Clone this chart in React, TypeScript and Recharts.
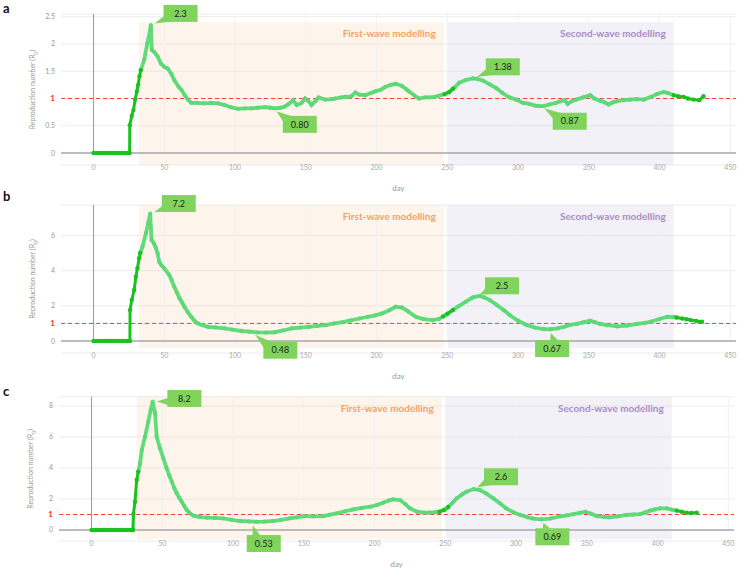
import React from 'react';
import {
  LineChart, Line, XAxis, YAxis, CartesianGrid, ReferenceArea, ReferenceLine, ReferenceDot,
} from 'recharts';

type Pt = [number, number | null];
type Note = [number, number, string];

const xTicks = [0, 50, 100, 150, 200, 250, 300, 350, 400, 450];
const xDomain: [number, number] = [-23, 454];
const firstWave = [32, 247.5];
const secondWave = [250.5, 410];

// ---- panel a ----
const aObserved: Pt[] = [
  [0, 0], [2, 0], [4, 0], [6, 0], [8, 0], [10, 0], [12, 0], [14, 0], [16, 0], [18, 0], [20, 0], [22, 0], [24, 0], [25.5, 0],
  [25.6, 0.51], [27, 0.68], [28.2, 0.79], [29.4, 0.98], [30.6, 1.13], [31.5, 1.25], [32.5, 1.41], [33.4, 1.52],
  [240, null], [248, 1.08], [251.4, 1.12], [254, 1.18],
  [300, null], [410, 1.06], [413, 1.04], [417, 1.03], [420, 1.0], [424, 0.98], [428, 0.97], [431, 1.04],
];
const aModel: Pt[] = [
  [33.4, 1.52], [35.8, 1.71], [38, 2.01], [40, 2.26], [40.5, 2.35], [41.2, 1.89], [42.7, 1.86], [45.3, 1.77], [47.6, 1.64],
  [50, 1.58], [52.4, 1.55], [55, 1.45], [57, 1.34], [60, 1.22], [62, 1.16], [64.5, 1.06], [66.6, 0.98], [69, 0.92],
  [73, 0.92], [78, 0.91], [83, 0.92], [88, 0.91], [92.7, 0.88], [97, 0.84], [102, 0.81], [107, 0.82], [111.6, 0.82],
  [116, 0.83], [121, 0.84], [125, 0.83], [128, 0.82], [132, 0.83], [135, 0.85], [138, 0.9], [141, 0.97], [143.6, 0.88],
  [147, 0.92], [149.5, 1.0], [152, 0.95], [154, 0.88], [157, 0.96], [159, 1.02], [163.7, 0.98], [168.5, 0.99], [171, 1.0],
  [175, 1.02], [178, 1.03], [182, 1.04], [185, 1.11], [188, 1.07], [192, 1.06], [196, 1.1], [199, 1.13], [203, 1.16],
  [206, 1.21], [210, 1.25], [213.5, 1.27], [218, 1.23], [221, 1.17], [223, 1.13], [227, 1.05], [230, 1.0], [234, 1.02],
  [237, 1.02], [241, 1.03], [244, 1.05], [248, 1.08], [251.4, 1.12], [255, 1.2], [258.5, 1.29], [263, 1.34], [268, 1.37],
  [271, 1.36], [275, 1.33], [280, 1.26], [284.6, 1.19], [289, 1.1], [294, 1.02], [298.7, 0.98], [303.5, 0.92], [308, 0.9],
  [312, 0.87], [315, 0.86], [318, 0.86], [322, 0.89], [327, 0.92], [330, 0.95], [333, 0.97], [335, 0.9], [338, 0.95],
  [341, 0.98], [346, 1.02], [351, 1.06], [354, 1.0], [358, 0.96], [361, 0.93], [364, 0.89], [367, 0.93], [370, 0.95],
  [375, 0.97], [379, 0.98], [384, 0.99], [389, 0.98], [394, 1.03], [398, 1.08], [403, 1.12], [406, 1.1], [410, 1.06],
];
const aTicks = [0, 0.5, 1, 1.5, 2, 2.5];
const aNotes: Note[] = [[40.5, 2.35, '2.3'], [127, 0.81, '0.80'], [268, 1.37, '1.38'], [316, 0.86, '0.87']];

// ---- panel b ----
const bObserved: Pt[] = [
  [0, 0], [2, 0], [4, 0], [6, 0], [8, 0], [10, 0], [12, 0], [14, 0], [16, 0], [18, 0], [20, 0], [22, 0], [24, 0], [25.7, 0],
  [25.8, 1.76], [27, 2.33], [28.7, 2.9], [29.9, 3.65], [31, 4.13], [32.2, 4.7], [33, 5.0],
  [240, null], [247, 1.4], [250, 1.55], [254, 1.76],
  [300, null], [412, 1.34], [416, 1.28], [419, 1.24], [422, 1.19], [426, 1.14], [430, 1.1],
];
const bModel: Pt[] = [
  [33, 5.0], [34.6, 5.36], [37, 6.12], [38.6, 6.69], [40, 7.25], [41, 5.74], [42.7, 5.55], [44, 5.3], [45.3, 4.98],
  [46.4, 4.5], [48, 4.3], [50, 4.13], [53.5, 3.75], [55, 3.5], [57, 3.09], [59, 2.75], [60.7, 2.43], [62.5, 2.2],
  [64.2, 1.95], [66.5, 1.65], [69, 1.38], [71, 1.18], [73.7, 1.0], [77, 0.9], [80.8, 0.81], [86, 0.77], [92.6, 0.72],
  [98, 0.65], [104.5, 0.57], [110, 0.53], [116, 0.49], [122, 0.48], [128, 0.5], [134, 0.6], [140, 0.72], [146, 0.76],
  [152, 0.81], [158, 0.86], [164, 0.91], [170, 1.0], [176, 1.08], [182, 1.18], [188, 1.28], [194, 1.38], [199, 1.46],
  [204, 1.57], [209, 1.75], [213.5, 1.95], [218, 1.9], [222, 1.7], [227.7, 1.38], [233, 1.25], [239.6, 1.19], [244, 1.25],
  [249, 1.48], [254, 1.76], [258, 1.98], [263, 2.23], [268, 2.48], [272.7, 2.56], [276, 2.48], [280, 2.33], [285, 2.05],
  [290, 1.75], [294, 1.48], [300, 1.15], [306, 0.91], [312, 0.76], [318, 0.68], [323, 0.67], [328, 0.72], [333, 0.82],
  [337, 0.92], [341.5, 0.97], [346, 1.06], [351, 1.15], [354, 1.08], [358, 0.97], [363, 0.9], [370, 0.83], [377, 0.88],
  [384, 0.97], [390, 1.03], [394, 1.1], [400, 1.25], [405.5, 1.38], [410, 1.36], [412, 1.34],
];
const bTicks = [0, 1, 2, 4, 6];
const bNotes: Note[] = [[40, 7.25, '7.2'], [112, 0.5, '0.48'], [270, 2.56, '2.5'], [322, 0.67, '0.67']];

// ---- panel c ----
const cObserved: Pt[] = [
  [0, 0], [2, 0], [4, 0], [6, 0], [8, 0], [10, 0], [12, 0], [14, 0], [16, 0], [18, 0], [20, 0], [22, 0], [24, 0], [26, 0], [28, 0], [29.3, 0],
  [29.6, 1.03], [30.7, 1.83], [31.9, 3.23], [33, 3.76],
  [240, null], [246, 1.18], [249, 1.28], [252, 1.48],
  [300, null], [413.6, 1.25], [417, 1.18], [420.6, 1.12], [424, 1.1], [427.7, 1.12],
];
const cModel: Pt[] = [
  [33, 3.76], [34.3, 4.3], [35.5, 5.16], [37.8, 6.02], [40.1, 6.99], [41.8, 7.74], [43.2, 8.28], [44.9, 7.53], [46, 6.02],
  [48.4, 5.27], [50.7, 4.63], [53.1, 3.98], [55, 3.5], [56.7, 3.12], [58.5, 2.7], [60.2, 2.37], [62, 2.08], [63.7, 1.83],
  [65.5, 1.55], [67.3, 1.29], [69.5, 1.08], [72, 0.92], [76, 0.85], [81.4, 0.8], [87, 0.78], [93, 0.75], [99, 0.66],
  [105, 0.58], [111, 0.55], [116.7, 0.53], [122, 0.54], [128.5, 0.58], [134, 0.66], [140, 0.75], [145, 0.82], [150, 0.9],
  [157, 0.88], [164, 0.9], [168, 0.98], [173, 1.07], [179, 1.2], [185, 1.33], [191, 1.42], [197, 1.5], [202, 1.62],
  [206, 1.76], [210, 1.9], [213, 1.98], [218, 1.93], [222, 1.65], [225, 1.4], [230, 1.18], [235, 1.12], [239, 1.12],
  [243, 1.15], [246, 1.18], [251, 1.4], [255, 1.75], [258, 2.04], [262, 2.3], [265, 2.47], [270, 2.64], [274.5, 2.58],
  [279, 2.35], [284, 2.04], [289, 1.7], [293, 1.4], [298, 1.15], [303, 0.97], [308, 0.82], [312, 0.74], [318, 0.69],
  [324, 0.74], [331, 0.88], [336, 0.95], [340.5, 1.03], [345, 1.1], [349, 1.18], [353, 1.05], [357, 0.9], [362, 0.85],
  [366, 0.82], [372, 0.88], [378, 0.97], [383, 1.0], [387.6, 1.03], [391, 1.12], [394.7, 1.25], [398, 1.33], [401.8, 1.4],
  [406.5, 1.4], [410, 1.32], [413.6, 1.25],
];
const cTicks = [0, 1, 2, 4, 6, 8];
const cNotes: Note[] = [[43.2, 8.28, '8.2'], [113, 0.54, '0.53'], [270, 2.64, '2.6'], [318, 0.69, '0.69']];

const FONT = 'Lato, "Open Sans", sans-serif';
const LIGHT = '#62db7c';
const DARK = '#19c21c';
const NOTE_FILL = '#80d45c';

const toRows = (pts: Pt[]) => pts.map(([day, r]) => ({ day, r }));

const XTick = (props: any) => {
  const { x, y, payload } = props;
  return (
    <text x={x} y={y} dy={5} textAnchor="middle" fontSize={7} fill="#aaa" fontFamily={FONT}>
      {payload.value}
    </text>
  );
};

const YTick = (props: any) => {
  const { x, y, payload } = props;
  const one = payload.value === 1;
  return (
    <text x={x} y={y} dy={2.5} textAnchor="end" fontSize={one ? 8 : 7} fontWeight={one ? 700 : 400}
      fill={one ? '#ff2b2b' : '#999'} fontFamily={FONT}>
      {payload.value}
    </text>
  );
};

const YTitle = (props: any) => {
  const vb = props.viewBox || { x: 0, y: 0, width: 0, height: 0 };
  const cx = vb.x + 13.5;
  const cy = vb.y + vb.height / 2;
  return (
    <text transform={`translate(${cx},${cy}) rotate(-90)`} textAnchor="middle" fontSize={7} fill="#999" fontFamily={FONT}>
      Reproduction number (R<tspan fontSize={5} baselineShift="sub">0</tspan>)
    </text>
  );
};

const DayLabel = (props: any) => {
  const vb = props.viewBox || { x: 0, y: 0, width: 0, height: 0 };
  return (
    <text x={vb.x + vb.width / 2} y={vb.y + 25.5} textAnchor="middle" fontSize={8} fill="#999" fontFamily={FONT}>
      day
    </text>
  );
};

// speech-bubble label next to a point
const Callout = ({ cx, cy, dx, dy, text }: any) => {
  const W = 34, H = 17;
  const L = cx + dx, T = cy + dy, R = L + W, B = T + H;
  let base: number[][];
  if (cy < T && cx >= L - 2) {
    const bx = Math.min(Math.max(cx + 1, L + 3), R - 12);
    base = [[bx, T + 0.5], [bx + 8, T + 0.5]];
  } else if (cy < T) {
    base = [[L + 9, T + 0.5], [L + 0.5, T + 6]];
  } else if (cy > B) {
    base = [[L + 0.5, B - 6], [L + 9, B - 0.5]];
  } else {
    base = [[L + 0.5, B - 9], [L + 0.5, B - 2]];
  }
  const mx = (base[0][0] + base[1][0]) / 2;
  const my = (base[0][1] + base[1][1]) / 2;
  const len = Math.hypot(mx - cx, my - cy) || 1;
  const gap = 4;
  const tx = cx + ((mx - cx) / len) * gap;
  const ty = cy + ((my - cy) / len) * gap;
  return (
    <g>
      <polygon points={`${tx},${ty} ${base[0][0]},${base[0][1]} ${base[1][0]},${base[1][1]}`} fill={NOTE_FILL} />
      <rect x={L} y={T} width={W} height={H} fill={NOTE_FILL} />
      <text x={L + W / 2} y={T + H / 2 + 3.2} textAnchor="middle" fontSize={9} fill="#1e1e1e" fontFamily={FONT}>
        {text}
      </text>
    </g>
  );
};

interface PanelProps {
  top: number;
  height: number;
  margin: { top: number; right: number; left: number; bottom: number };
  axisH: number;
  yDomain: [number, number];
  yTicks: number[];
  shade: [number, number];
  observed: Pt[];
  model: Pt[];
  notes: Note[];
  noteOffsets: number[][];
}

const Panel = ({ top, height, margin, axisH, yDomain, yTicks, shade, observed, model, notes, noteOffsets }: PanelProps) => {
  const obs = toRows(observed);
  const mod = toRows(model);
  return (
    <div style={{ position: 'absolute', left: 0, top, width: 740, height }}>
      <LineChart width={740} height={height} margin={margin}>
        <CartesianGrid vertical={false} stroke="#ececec" />
        <XAxis type="number" dataKey="day" domain={xDomain} ticks={xTicks} interval={0} height={axisH}
          axisLine={false} tickLine={false} tickSize={0} tickMargin={0} tick={<XTick />}
          label={(p: any) => <DayLabel {...p} />} />
        <YAxis type="number" domain={yDomain} ticks={yTicks} interval={0} width={40}
          axisLine={false} tickLine={false} tickSize={0} tickMargin={6} tick={<YTick />}
          label={(p: any) => <YTitle {...p} />} />

        <ReferenceArea x1={firstWave[0]} x2={firstWave[1]} y1={shade[0]} y2={shade[1]} fill="#f8d6b5" fillOpacity={0.25}
          stroke="none"
          label={{ value: 'First-wave modelling', position: 'insideTopRight', offset: 8, fill: '#f6a35f', fontSize: 10, fontWeight: 700, fontFamily: FONT }} />
        <ReferenceArea x1={secondWave[0]} x2={secondWave[1]} y1={shade[0]} y2={shade[1]} fill="#cfc6e3" fillOpacity={0.25}
          stroke="none"
          label={{ value: 'Second-wave modelling', position: 'insideTopRight', offset: 8, fill: '#a88cc6', fontSize: 10, fontWeight: 700, fontFamily: FONT }} />

        {xTicks.filter((t) => t !== 0).map((t) => (
          <ReferenceLine key={t} segment={[{ x: t, y: 0 }, { x: t, y: yDomain[1] }]} stroke="#f1f1f1" />
        ))}
        <ReferenceLine y={0} stroke="#aaa" strokeWidth={1.5} />
        <ReferenceLine segment={[{ x: 0, y: 0 }, { x: 0, y: yDomain[1] }]} stroke="#999" />
        <ReferenceLine y={1} stroke="#ff3b3b" strokeDasharray="4 3" strokeWidth={1} />

        <Line data={mod} dataKey="r" type="linear" stroke={LIGHT} strokeWidth={3.8}
          dot={{ r: 1.7, fill: LIGHT, stroke: '#52d06d', strokeWidth: 0.6 }} isAnimationActive={false} />
        <Line data={obs} dataKey="r" type="linear" stroke={DARK} strokeWidth={3}
          dot={{ r: 2.2, fill: DARK, stroke: 'none', strokeWidth: 0 }} isAnimationActive={false} />

        {notes.map(([d, r, text], i) => (
          <ReferenceDot key={text} x={d} y={r} r={0}
            shape={(p: any) => <Callout cx={p.cx} cy={p.cy} dx={noteOffsets[i][0]} dy={noteOffsets[i][1]} text={text} />} />
        ))}
      </LineChart>
    </div>
  );
};

const letterStyle: React.CSSProperties = {
  position: 'absolute', left: 3, fontFamily: FONT, fontWeight: 700, fontSize: 13, lineHeight: '13px', color: '#111',
};

export default function App() {
  return (
    <div style={{ position: 'absolute', left: 0, top: 0, width: 740, height: 575, background: '#fff', overflow: 'hidden' }}>
      <Panel top={0} height={193} margin={{ top: 14, right: 4, left: 21, bottom: 0 }} axisH={28}
        yDomain={[-0.22, 2.55]} yTicks={aTicks} shade={[-0.22, 2.4]}
        observed={aObserved} model={aModel} notes={aNotes}
        noteOffsets={[[12.7, -20], [9.5, 7], [13, -20], [12, 6.6]]} />
      <Panel top={193} height={190} margin={{ top: 12, right: 4, left: 21, bottom: 0 }} axisH={30}
        yDomain={[-0.68, 7.73]} yTicks={bTicks} shade={[-0.4, 7.73]}
        observed={bObserved} model={bModel} notes={bNotes}
        noteOffsets={[[11.6, -18.4], [11.3, 9.5], [9.4, -18.7], [-14.1, 10.8]]} />
      <Panel top={383} height={192} margin={{ top: 13.7, right: 6, left: 19, bottom: 0 }} axisH={34}
        yDomain={[-0.71, 8.6]} yTicks={cTicks} shade={[-0.6, 8.6]}
        observed={cObserved} model={cModel} notes={cNotes}
        noteOffsets={[[14.7, -11.7], [-4.7, 13.4], [10.4, -20.8], [-6.2, 9]]} />
      <div style={{ ...letterStyle, top: 2 }}>a</div>
      <div style={{ ...letterStyle, top: 190 }}>b</div>
      <div style={{ ...letterStyle, top: 385 }}>c</div>
    </div>
  );
}
